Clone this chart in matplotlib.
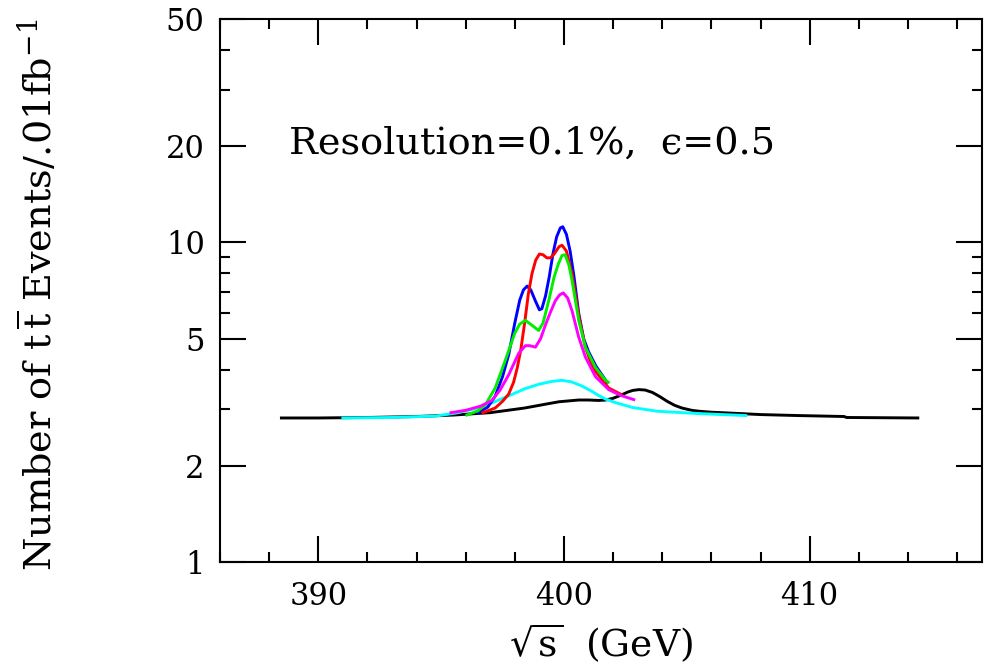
import numpy as np
import matplotlib
matplotlib.use("Agg")
import matplotlib.pyplot as plt
from matplotlib.ticker import FixedLocator, FixedFormatter, MultipleLocator, NullFormatter

# curves: sqrt(s) in GeV, events per .01 fb^-1
black_x = [388.5, 390.0, 392.0, 394.0, 395.5, 397.0, 398.4, 399.3, 399.8, 400.2,
           400.6, 401.0, 401.4, 401.7, 402.0, 402.3, 402.6, 402.8, 403.05, 403.3,
           403.6, 403.9, 404.2, 404.5, 404.8, 405.2, 405.5, 406.0, 406.8, 408.0,
           409.5, 411.4, 411.5, 414.4]
black_y = [2.82, 2.82, 2.83, 2.85, 2.88, 2.93, 3.03, 3.12, 3.17, 3.19,
           3.21, 3.21, 3.20, 3.21, 3.25, 3.32, 3.40, 3.44, 3.46, 3.45,
           3.39, 3.29, 3.18, 3.09, 3.03, 2.98, 2.96, 2.94, 2.92, 2.89,
           2.87, 2.85, 2.83, 2.82]

cyan_x = [391.0, 393.0, 394.8, 395.7, 396.4, 397.1, 397.8, 398.4, 399.0, 399.5,
          399.9, 400.3, 400.7, 401.1, 401.4, 401.7, 402.1, 402.8, 403.8, 405.5, 407.4]
cyan_y = [2.82, 2.83, 2.86, 2.93, 3.02, 3.15, 3.32, 3.48, 3.60, 3.67,
          3.70, 3.66, 3.56, 3.43, 3.32, 3.23, 3.15, 3.04, 2.96, 2.91, 2.87]

blue_x = [396.5, 396.9, 397.2, 397.5, 397.75, 398.0, 398.2, 398.35, 398.5, 398.65,
          398.84, 399.0, 399.1, 399.25, 399.4, 399.55, 399.7, 399.85, 399.95, 400.1,
          400.25, 400.4, 400.6, 400.8, 401.0, 401.3, 401.75]
blue_y = [2.93, 3.05, 3.30, 3.80, 4.45, 5.6, 6.6, 7.1, 7.3, 7.1,
          6.55, 6.15, 6.2, 6.8, 7.8, 9.2, 10.4, 11.1, 11.2, 10.6,
          9.4, 7.9, 6.0, 5.0, 4.55, 4.1, 3.65]

red_x = [396.7, 397.2, 397.5, 397.75, 397.95, 398.1, 398.25, 398.4, 398.55, 398.7,
         398.85, 399.0, 399.15, 399.3, 399.45, 399.6, 399.8, 399.92, 400.1, 400.33,
         400.6, 400.87, 401.1, 401.28, 401.82, 402.3]
red_y = [2.93, 3.03, 3.18, 3.35, 3.65, 4.05, 4.65, 5.6, 6.9, 8.0,
         8.8, 9.2, 9.15, 8.95, 8.95, 9.2, 9.7, 9.8, 9.4, 7.96,
         5.9, 4.7, 4.2, 3.95, 3.5, 3.35]

green_x = [396.05, 396.5, 396.8, 397.2, 397.6, 398.0, 398.2, 398.43, 398.7, 398.97,
           399.15, 399.38, 399.6, 399.78, 399.92, 400.05, 400.2, 400.33, 400.6, 400.87,
           401.28, 401.69, 401.8]
green_y = [2.88, 2.97, 3.1, 3.5, 4.25, 5.2, 5.55, 5.7, 5.5, 5.3,
           5.6, 6.57, 7.8, 8.6, 9.1, 9.15, 8.5, 7.6, 5.7, 4.7,
           4.06, 3.7, 3.65]

magenta_x = [395.4, 396.0, 396.6, 397.07, 397.4, 397.75, 398.16, 398.43, 398.6, 398.84,
             399.05, 399.24, 399.45, 399.65, 399.82, 399.97, 400.15, 400.33, 400.6, 400.87,
             401.28, 401.82, 402.3, 402.84]
magenta_y = [2.93, 2.98, 3.07, 3.2, 3.45, 3.85, 4.5, 4.75, 4.75, 4.7,
             5.0, 5.5, 6.05, 6.57, 6.85, 6.95, 6.7, 6.1, 5.05, 4.38,
             3.8, 3.46, 3.32, 3.22]

y_major = [1, 2, 5, 10, 20, 50]
y_major_labels = ["1", "2", "5", "10", "20", "50"]
y_minor = [3, 4, 6, 7, 8, 9, 30, 40]

plt.rcParams['font.family'] = ['DejaVu Serif']

fig = plt.figure(figsize=(9.9, 6.65), dpi=100)
ax = fig.add_axes([0.2222, 0.1553, 0.9916 - 0.2222, 0.971 - 0.1553])

lw = 2.1
ax.plot(black_x, black_y, color="black", lw=lw)
ax.plot(cyan_x, cyan_y, color="#00ffff", lw=lw)
ax.plot(blue_x, blue_y, color="#0000ff", lw=lw)
ax.plot(red_x, red_y, color="#ff0000", lw=lw)
ax.plot(green_x, green_y, color="#00ee00", lw=lw)
ax.plot(magenta_x, magenta_y, color="#ff00ff", lw=lw)

ax.set_yscale("log")
ax.set_xlim(386, 417)
ax.set_ylim(1, 50)

ax.xaxis.set_major_locator(MultipleLocator(10))
ax.xaxis.set_minor_locator(MultipleLocator(2))
ax.yaxis.set_major_locator(FixedLocator(y_major))
ax.yaxis.set_major_formatter(FixedFormatter(y_major_labels))
ax.yaxis.set_minor_locator(FixedLocator(y_minor))
ax.yaxis.set_minor_formatter(NullFormatter())

ax.tick_params(which="both", direction="in", top=True, right=True, width=1.5, labelsize=22)
ax.tick_params(which="major", length=19)
ax.tick_params(which="minor", length=7)
ax.tick_params(axis="y", pad=11)
ax.tick_params(axis="x", pad=14)
for s in ax.spines.values():
    s.set_linewidth(1.5)

ax.text(388.82, 19.0, "Resolution=0.1%,  \u03f5=0.5", fontsize=27.5, ha="left", va="baseline")

fig.text(601 / 990, 1 - 643 / 665, r"$\sqrt{\rm s}$  (GeV)", fontsize=27,
         ha="center", va="center", math_fontfamily="dejavuserif")
fig.text(38 / 990, 1 - 295 / 665, r"Number of $\rm t\,\overline{t}$ Events/.01fb$^{-1}$",
         fontsize=27.5, rotation=90, ha="center", va="center", math_fontfamily="dejavuserif")

fig.savefig("out.png", dpi=100)
